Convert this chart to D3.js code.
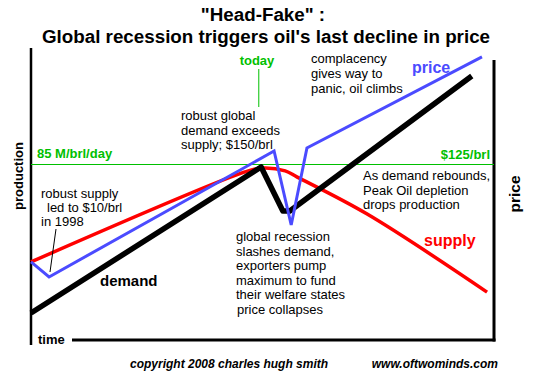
<!DOCTYPE html>
<html>
<head>
<meta charset="utf-8">
<script src="https://cdn.jsdelivr.net/npm/d3@7"></script>
<style>
  html, body { margin: 0; padding: 0; background: #fff; }
  svg { display: block; font-family: "Liberation Sans", Arial, sans-serif; }
</style>
</head>
<body>
<svg id="chart" width="550" height="375"></svg>
<script>
// ---- data (time 0-100, production in M brl/day index, price in $/brl) ----
const demandTime   = [0, 49.7, 54.4, 55.9, 95.2];
const demandValue  = [13.1, 83.8, 62.5, 62.5, 127.9];

const supplyTime   = [0, 46.2, 49.9, 54.9, 57.5, 72.6, 98.5];
const supplyValue  = [37.8, 81.4, 83.3, 81.9, 78.9, 61.0, 23.2];

const priceTime    = [0, 3.9, 52.5, 56.2, 59.6, 97.4];
const priceValue   = [55.6, 44.9, 134.6, 81.9, 136.8, 201.6];

const productionLevel = 85;   // M/brl/day
const priceLevel      = 125;  // $/brl
const todayTime       = 49.2;

const titleLines = ['"Head-Fake" :', "Global recession triggers oil's last decline in price"];

// ---- layout ----
const svg = d3.select("#chart");
const x = d3.scaleLinear().domain([0, 100]).range([31, 494]);
const yProd = d3.scaleLinear().domain([0, productionLevel]).range([340, 164.5]);
const yPrice = d3.scaleLinear().domain([0, priceLevel]).range([340, 164.5]);

const zip = (a, b) => a.map((v, i) => [v, b[i]]);

// title
svg.append("text").attr("x", 263).attr("y", 21).attr("text-anchor", "middle")
  .attr("font-size", 18.8).attr("font-weight", "bold").attr("fill", "#000").text(titleLines[0]);
svg.append("text").attr("x", 266).attr("y", 43).attr("text-anchor", "middle")
  .attr("font-size", 18.8).attr("font-weight", "bold").attr("fill", "#000").text(titleLines[1]);

// axes frame
svg.append("line").attr("x1", 31).attr("x2", 31).attr("y1", 48).attr("y2", 345)
  .attr("stroke", "#000").attr("stroke-width", 2.5);
svg.append("line").attr("x1", 494).attr("x2", 494).attr("y1", 60).attr("y2", 341.5)
  .attr("stroke", "#000").attr("stroke-width", 3);
svg.append("line").attr("x1", 72).attr("x2", 495.5).attr("y1", 340).attr("y2", 340)
  .attr("stroke", "#000").attr("stroke-width", 3);

// green reference line
const green = "#00c000";
svg.append("line").attr("x1", 31).attr("x2", 494)
  .attr("y1", yProd(productionLevel)).attr("y2", yProd(productionLevel))
  .attr("stroke", green).attr("stroke-width", 1);
svg.append("text").attr("x", 37).attr("y", 158).attr("font-size", 13).attr("font-weight", "bold")
  .attr("fill", green).text(productionLevel + " M/brl/day");
svg.append("text").attr("x", 490).attr("y", 159).attr("text-anchor", "end").attr("font-size", 13)
  .attr("font-weight", "bold").attr("fill", green).text("$" + priceLevel + "/brl");

// today marker
svg.append("text").attr("x", 257).attr("y", 65).attr("text-anchor", "middle").attr("font-size", 13)
  .attr("font-weight", "bold").attr("fill", green).text("today");
svg.append("line").attr("x1", x(todayTime)).attr("x2", x(todayTime)).attr("y1", 69).attr("y2", 107)
  .attr("stroke", green).attr("stroke-width", 1);

// lines
const lineProd = d3.line().x(d => x(d[0])).y(d => yProd(d[1]));
const linePrice = d3.line().x(d => x(d[0])).y(d => yPrice(d[1]));

svg.append("path").datum(zip(supplyTime, supplyValue))
  .attr("d", lineProd.curve(d3.curveCatmullRom.alpha(0.5)))
  .attr("fill", "none").attr("stroke", "#ff0000").attr("stroke-width", 3.5);

svg.append("path").datum(zip(demandTime, demandValue))
  .attr("d", d3.line().x(d => x(d[0])).y(d => yProd(d[1])))
  .attr("fill", "none").attr("stroke", "#000").attr("stroke-width", 5.5)
  .attr("stroke-linejoin", "round");

svg.append("path").datum(zip(priceTime, priceValue))
  .attr("d", linePrice)
  .attr("fill", "none").attr("stroke", "#4b4bff").attr("stroke-width", 3);

// leader line for 1998 note
svg.append("line").attr("x1", 56).attr("y1", 229).attr("x2", 50).attr("y2", 272)
  .attr("stroke", "#000").attr("stroke-width", 1);

// annotations
function block(x0, y0, lines, dy, opts) {
  const t = svg.append("text").attr("font-size", opts && opts.size || 13).attr("fill", "#000");
  lines.forEach((s, i) => {
    const xi = Array.isArray(x0) ? x0[i] : x0;
    t.append("tspan").attr("x", xi).attr("y", y0 + i * dy).text(s);
  });
  return t;
}
block([41, 47, 41], 198, ["robust supply", "led to $10/brl", "in 1998"], 14);
block(181, 120, ["robust global", "demand exceeds", "supply; $150/brl"], 14.5);
block(311, 63, ["complacency", "gives way to", "panic, oil climbs"], 15);
block(363, 180, ["As demand rebounds,", "Peak Oil depletion", "drops production"], 14.5);
block([236, 236, 236, 236, 236, 237], 241,
  ["global recession", "slashes demand,", "exporters pump", "maximum to fund", "their welfare states", "price collapses"], 14.6);

// series labels
svg.append("text").attr("x", 100).attr("y", 286).attr("font-size", 15).attr("font-weight", "bold")
  .attr("fill", "#000").text("demand");
svg.append("text").attr("x", 412).attr("y", 73).attr("font-size", 16).attr("font-weight", "bold")
  .attr("fill", "#4b4bff").text("price");
svg.append("text").attr("x", 424).attr("y", 246).attr("font-size", 16).attr("font-weight", "bold")
  .attr("fill", "#ff0000").text("supply");

// axis titles
svg.append("text").attr("transform", "translate(23,176) rotate(-90)").attr("text-anchor", "middle")
  .attr("font-size", 13).attr("font-weight", "bold").attr("fill", "#000").text("production");
svg.append("text").attr("transform", "translate(520,194) rotate(-90)").attr("text-anchor", "middle")
  .attr("font-size", 15.5).attr("font-weight", "bold").attr("fill", "#000").text("price");
svg.append("text").attr("x", 38).attr("y", 344).attr("font-size", 13).attr("font-weight", "bold")
  .attr("fill", "#000").text("time");

// footer
svg.append("text").attr("x", 130).attr("y", 368).attr("font-size", 12).attr("font-weight", "bold")
  .attr("font-style", "italic").attr("fill", "#000").text("copyright 2008 charles hugh smith");
svg.append("text").attr("x", 498).attr("y", 368).attr("text-anchor", "end").attr("font-size", 12)
  .attr("font-weight", "bold").attr("font-style", "italic").attr("fill", "#000").text("www.oftwominds.com");
</script>
</body>
</html>
